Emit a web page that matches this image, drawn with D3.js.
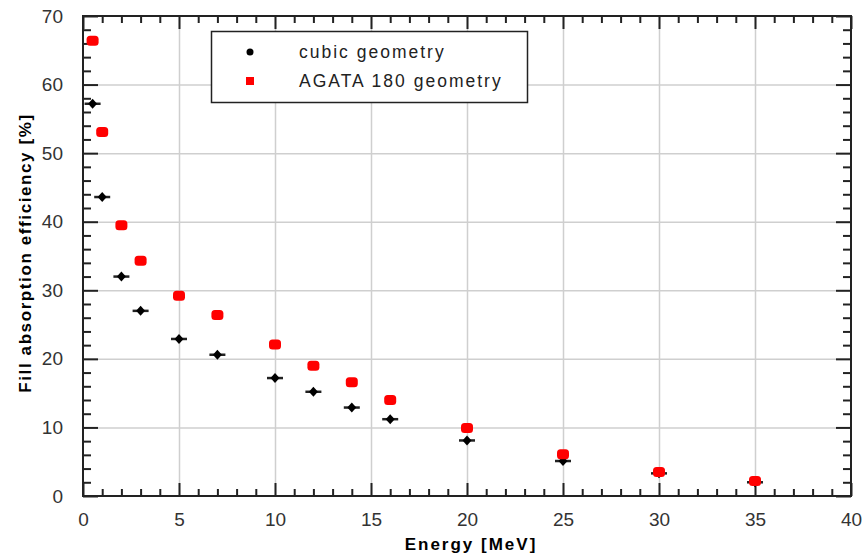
<!doctype html>
<html lang="en">
  <head>
    <meta charset="utf-8">
    <title>Fill absorption efficiency</title>
    <script src="https://d3js.org/d3.v7.min.js"></script>
    <style>
      body { margin: 0; background: #fff; }
      svg { font-family: 'Liberation Sans', Arial, sans-serif; }
      .tick text { fill: #333; font-size: 19px; }
      .domain { display: none; }
    </style>
  </head>
  <body>
    <div id="root"></div>
  </body>
  <script>

    //data:
    const energies = [0.5, 1, 2, 3, 5, 7, 10, 12, 14, 16, 20, 25, 30, 35];
    const cubic = [57.2, 43.6, 32.0, 27.0, 22.9, 20.6, 17.2, 15.2, 12.9, 11.2, 8.1, 5.1, 3.3, 2.0];
    const agata = [66.4, 53.1, 39.5, 34.3, 29.2, 26.4, 22.1, 19.0, 16.6, 14.0, 9.9, 6.1, 3.5, 2.2];
    const xTicks = [0, 5, 10, 15, 20, 25, 30, 35, 40];
    const yTicks = [0, 10, 20, 30, 40, 50, 60, 70];
    const seriesNames = ["cubic geometry", "AGATA 180 geometry"];

    //layout:
    const width = 863, height = 557;
    const margin = {left: 83, right: 12, top: 16, bottom: 61};
    const w = width - margin.left - margin.right;
    const h = height - margin.top - margin.bottom;

    const svg = d3.select("#root").append("svg")
      .attr("width", width)
      .attr("height", height);

    const g = svg.append("g")
      .attr("transform", `translate(${margin.left},${margin.top})`);

    const x = d3.scaleLinear().domain([0, 40]).range([0, w]);
    const y = d3.scaleLinear().domain([0, 70]).range([h, 0]);

    //grid:
    g.append("g")
      .attr("transform", `translate(0,${h})`)
      .call(d3.axisBottom(x).tickValues(xTicks.slice(1, -1)).tickSize(-h).tickFormat(""))
      .selectAll("line").attr("stroke", "#cfcfcf").attr("stroke-width", 1.5);
    g.append("g")
      .call(d3.axisLeft(y).tickValues(yTicks.slice(1, -1)).tickSize(-w).tickFormat(""))
      .selectAll("line").attr("stroke", "#cfcfcf").attr("stroke-width", 1.5);

    //ticks, all pointing inward:
    const minorX = d3.range(0, 41, 1).filter(v => v % 5);
    const minorY = d3.range(0, 71, 2).filter(v => v % 10);

    function tickAxis(axis, tr, vals, size, pad) {
      const a = g.append("g").attr("transform", tr)
        .call(axis.tickValues(vals).tickSize(size).tickPadding(pad || 0)
          .tickFormat(pad ? d3.format("d") : ""));
      a.selectAll("line").attr("stroke", "#222").attr("stroke-width", 2);
      return a;
    }

    tickAxis(d3.axisBottom(x), `translate(0,${h})`, xTicks, -13, 17);
    tickAxis(d3.axisBottom(x), `translate(0,${h})`, minorX, -7);
    tickAxis(d3.axisTop(x), "translate(0,0)", xTicks, -13);
    tickAxis(d3.axisTop(x), "translate(0,0)", minorX, -7);
    tickAxis(d3.axisLeft(y), "translate(0,0)", yTicks, -15, 20);
    tickAxis(d3.axisLeft(y), "translate(0,0)", minorY, -8);
    tickAxis(d3.axisRight(y), `translate(${w},0)`, yTicks, -15);
    tickAxis(d3.axisRight(y), `translate(${w},0)`, minorY, -8);

    //frame:
    g.append("rect")
      .attr("width", w).attr("height", h)
      .attr("fill", "none").attr("stroke", "#222").attr("stroke-width", 2);

    //points:
    const cubicPts = energies.map((e, i) => ({e: e, v: cubic[i]}));
    const agataPts = energies.map((e, i) => ({e: e, v: agata[i]}));

    const blk = g.append("g").selectAll("g").data(cubicPts).enter().append("g")
      .attr("transform", d => `translate(${x(d.e)},${y(d.v)})`);
    blk.append("line").attr("x1", -8).attr("x2", 8)
      .attr("stroke", "#222").attr("stroke-width", 2.5);
    blk.append("path").attr("d", "M0,-5L4.5,0L0,5L-4.5,0Z").attr("fill", "#000");

    g.append("g").selectAll("rect").data(agataPts).enter().append("rect")
      .attr("x", d => x(d.e) - 6)
      .attr("y", d => y(d.v) - 5)
      .attr("width", 12).attr("height", 10)
      .attr("rx", 3.5)
      .attr("fill", "#ff0000");

    //legend:
    const lg = svg.append("g");
    lg.append("rect")
      .attr("x", 211.5).attr("y", 31.5).attr("width", 316).attr("height", 71)
      .attr("fill", "#fff").attr("stroke", "#222").attr("stroke-width", 1.5);
    lg.append("circle").attr("cx", 250).attr("cy", 52).attr("r", 3.5).attr("fill", "#000");
    lg.append("rect").attr("x", 246).attr("y", 77).attr("width", 8).attr("height", 8).attr("fill", "#ff0000");
    lg.selectAll("text").data(seriesNames).enter().append("text")
      .attr("x", 299)
      .attr("y", (d, i) => 58 + i * 29)
      .attr("font-size", 17.5)
      .attr("letter-spacing", 2)
      .attr("fill", "#222")
      .text(d => d);

    //axis titles:
    svg.append("text")
      .attr("x", margin.left + w / 2 + 4).attr("y", 550)
      .attr("text-anchor", "middle")
      .attr("font-size", 17).attr("font-weight", "bold")
      .attr("letter-spacing", 2)
      .text("Energy [MeV]");
    svg.append("text")
      .attr("transform", `translate(31,${margin.top + h / 2 - 3}) rotate(-90)`)
      .attr("text-anchor", "middle")
      .attr("font-size", 17).attr("font-weight", "bold")
      .attr("letter-spacing", 1.6)
      .text("Fill absorption efficiency [%]");

  </script>
</html>
